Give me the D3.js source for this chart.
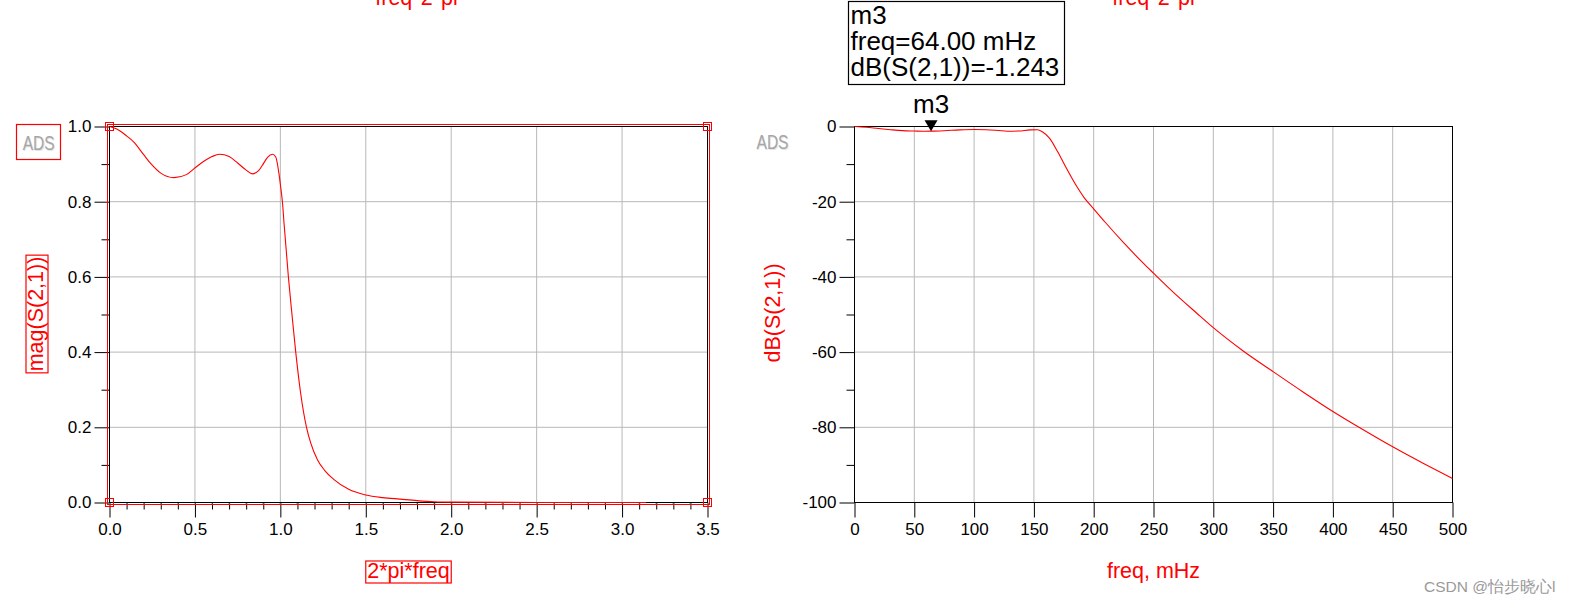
<!DOCTYPE html>
<html>
<head>
<meta charset="utf-8">
<script src="https://cdn.jsdelivr.net/npm/d3@7"></script>
<style>
  html, body { margin: 0; padding: 0; background: #fff; }
  svg { display: block; }
  text { font-family: "Liberation Sans", Arial, sans-serif; }
</style>
</head>
<body>
<svg id="chart" width="1589" height="606"></svg>
<script>
// ---------- Data ----------
// Left plot: mag(S(2,1)) vs 2*pi*freq
const omega = [0, 0.04, 0.1, 0.144, 0.2, 0.242, 0.3, 0.378, 0.45, 0.495,
               0.55, 0.6, 0.645, 0.7, 0.75, 0.8, 0.837, 0.856, 0.875, 0.895,
               0.925, 0.954, 0.973, 0.992, 1.002, 1.012, 1.022, 1.047, 1.068, 1.09,
               1.119, 1.153, 1.178, 1.217, 1.26, 1.314, 1.4, 1.5, 1.6, 1.7,
               1.8, 1.9, 2.0, 2.5, 3.0, 3.14];
const mag   = [1.0, 0.994, 0.975, 0.958, 0.925, 0.901, 0.876, 0.864, 0.872, 0.888,
               0.907, 0.92, 0.926, 0.92, 0.903, 0.884, 0.874, 0.877, 0.884, 0.897,
               0.918, 0.926, 0.919, 0.874, 0.839, 0.8, 0.74, 0.6, 0.5, 0.4,
               0.29, 0.2, 0.158, 0.114, 0.085, 0.061, 0.035, 0.02, 0.013, 0.009,
               0.005, 0.002, 0.001, 0, 0, 0];

// Right plot: dB(S(2,1)) vs freq (mHz)
const freq = [0, 10, 20, 30, 40, 50, 58, 64, 75, 88,
              100, 110, 120, 128, 137, 147, 153, 157, 163, 170,
              177, 185, 192, 200, 210, 225, 241, 250, 266, 286,
              300, 325, 350, 375, 400, 425, 450, 475, 500];
const dB   = [0, -0.2, -0.55, -0.85, -1.1, -1.2, -1.26, -1.243, -1.12, -0.9,
              -0.8, -0.85, -1.05, -1.25, -1.2, -0.9, -0.85, -1.4, -3.1, -6.8,
              -11.0, -15.5, -18.9, -21.9, -25.6, -30.9, -36.2, -39.0, -43.9, -49.6,
              -53.5, -59.7, -65.2, -70.6, -75.8, -80.6, -85.2, -89.5, -93.6];

// Marker m3
const markerName = "m3";
const markerFreq = 64;
const markerDB = -1.243;
const markerLines = ["m3", "freq=64.00 mHz", "dB(S(2,1))=-1.243"];

// Ticks
const leftXMajor = [0, 0.5, 1.0, 1.5, 2.0, 2.5, 3.0, 3.5];
const leftXMinor = [0.1,0.2,0.3,0.4,0.6,0.7,0.8,0.9,1.1,1.2,1.3,1.4,1.6,1.7,1.8,1.9,2.1,2.2,2.3,2.4,2.6,2.7,2.8,2.9,3.1,3.2,3.3,3.4];
const leftYMajor = [0.0, 0.2, 0.4, 0.6, 0.8, 1.0];
const leftYMinor = [0.1, 0.3, 0.5, 0.7, 0.9];
const rightXMajor = [0, 50, 100, 150, 200, 250, 300, 350, 400, 450, 500];
const rightYMajor = [-100, -80, -60, -40, -20, 0];
const rightYMinor = [-90, -70, -50, -30, -10];

// Labels
const leftXTitle = "2*pi*freq";
const leftYTitle = "mag(S(2,1))";
const rightXTitle = "freq, mHz";
const rightYTitle = "dB(S(2,1))";
const topEqn = "freq*2*pi";
const watermark = "CSDN @怡步晓心l";

// ---------- Drawing ----------
const svg = d3.select("#chart");
svg.append("rect").attr("width", 1589).attr("height", 606).attr("fill", "#fff");

const RED = "#ff0000";
const GRID = "#b8b8b8";
const TICKFONT = 17;
const TITLEFONT = 21.5;

const xL = d3.scaleLinear().domain([0, 3.5]).range([109.5, 707.5]);
const yL = d3.scaleLinear().domain([0, 1]).range([502.5, 126.5]);
const xR = d3.scaleLinear().domain([0, 500]).range([854.5, 1452.5]);
const yR = d3.scaleLinear().domain([-100, 0]).range([502.5, 126.5]);

function grid(g, x, y, xv, yv) {
  g.selectAll(".gv").data(xv).join("line")
    .attr("x1", d => x(d)).attr("x2", d => x(d))
    .attr("y1", y.range()[0]).attr("y2", y.range()[1])
    .attr("stroke", GRID).attr("stroke-width", 1);
  g.selectAll(".gh").data(yv).join("line").attr("class", "gh")
    .attr("y1", d => y(d)).attr("y2", d => y(d))
    .attr("x1", x.range()[0]).attr("x2", x.range()[1])
    .attr("stroke", GRID).attr("stroke-width", 1);
}

function styleAxis(sel) {
  sel.select(".domain").remove();
  sel.selectAll("line").attr("stroke", "#000").attr("stroke-width", 1);
  sel.selectAll("text").attr("fill", "#000").attr("font-size", TICKFONT)
     .attr("font-family", "'Liberation Sans', Arial, sans-serif");
}

function frame(g, x, y) {
  const [x0, x1] = x.range(), [y0, y1] = y.range();
  g.append("rect").attr("x", x0).attr("y", y1).attr("width", x1 - x0).attr("height", y0 - y1)
    .attr("fill", "none").attr("stroke", "#000").attr("stroke-width", 1);
}

// ----- Left chart -----
const gL = svg.append("g");
grid(gL.append("g"), xL, yL, leftXMajor.filter(d => d > 0 && d < 3.5), leftYMajor.filter(d => d > 0 && d < 1));
frame(gL, xL, yL);

gL.append("g").attr("transform", `translate(${xL(0)},0)`)
  .call(d3.axisLeft(yL).tickValues(leftYMajor).tickFormat(d3.format(".1f")).tickSize(15).tickPadding(3))
  .call(styleAxis);
gL.append("g").attr("transform", `translate(${xL(0)},0)`)
  .call(d3.axisLeft(yL).tickValues(leftYMinor).tickFormat("").tickSize(8))
  .call(styleAxis);
gL.append("g").attr("transform", `translate(0,${yL(0)})`)
  .call(d3.axisBottom(xL).tickValues(leftXMajor).tickFormat(d3.format(".1f")).tickSize(15).tickPadding(5))
  .call(styleAxis);
gL.append("g").attr("transform", `translate(0,${yL(0)})`)
  .call(d3.axisBottom(xL).tickValues(leftXMinor).tickFormat("").tickSize(7))
  .call(styleAxis);
// small cyan marks at tick roots
gL.selectAll(".cy").data(leftXMinor.concat(leftXMajor)).join("rect")
  .attr("x", d => Math.round(xL(d)) - 0.5).attr("y", yL(0) + 0.5).attr("width", 1).attr("height", 1)
  .attr("fill", "#00c8c8");

const lineL = d3.line().x((d, i) => xL(omega[i])).y(d => yL(d)).curve(d3.curveMonotoneX);
gL.append("path").datum(mag).attr("d", lineL)
  .attr("fill", "none").attr("stroke", RED).attr("stroke-width", 1.1);

// selection frame and handles
gL.append("rect").attr("x", xL(0) - 2).attr("y", yL(1) - 2)
  .attr("width", xL(3.5) - xL(0) + 4).attr("height", yL(0) - yL(1) + 4)
  .attr("fill", "none").attr("stroke", RED).attr("stroke-width", 1);
[[0, 0], [0, 1], [3.5, 0], [3.5, 1]].forEach(([a, b]) => {
  gL.append("rect").attr("x", xL(a) - 4).attr("y", yL(b) - 4).attr("width", 8).attr("height", 8)
    .attr("fill", "none").attr("stroke", RED).attr("stroke-width", 1);
});

// titles
const tLx = gL.append("text").attr("x", (xL(0) + xL(3.5)) / 2).attr("y", 578)
  .attr("text-anchor", "middle").attr("font-size", TITLEFONT).attr("fill", RED).text(leftXTitle);
const bx = tLx.node().getBBox();
gL.append("rect").attr("x", bx.x - 1.5).attr("y", bx.y + 2).attr("width", bx.width + 3).attr("height", bx.height - 2)
  .attr("fill", "none").attr("stroke", RED).attr("stroke-width", 1.2);

const tLy = gL.append("text").attr("transform", "translate(43,314) rotate(-90)")
  .attr("text-anchor", "middle").attr("font-size", TITLEFONT).attr("fill", RED).text(leftYTitle);
const by = tLy.node().getBBox();
gL.append("rect").attr("transform", "translate(43,314) rotate(-90)")
  .attr("x", by.x - 1.5).attr("y", by.y + 2).attr("width", by.width + 3).attr("height", by.height - 2)
  .attr("fill", "none").attr("stroke", RED).attr("stroke-width", 1.2);

gL.append("text").attr("x", 416.5).attr("y", 5).attr("text-anchor", "middle")
  .attr("font-size", TITLEFONT).attr("fill", RED).text(topEqn);

// ADS logos
function adsLogo(x, y) {
  svg.append("text").attr("x", x + 0.8).attr("y", y + 0.8).attr("font-size", 20)
    .attr("textLength", 32).attr("lengthAdjust", "spacingAndGlyphs")
    .attr("fill", "#e4e4e4").text("ADS");
  svg.append("text").attr("x", x).attr("y", y).attr("font-size", 20)
    .attr("textLength", 32).attr("lengthAdjust", "spacingAndGlyphs")
    .attr("fill", "#a6a6a6").text("ADS");
}
adsLogo(22.7, 150);
svg.append("rect").attr("x", 16.5).attr("y", 124.5).attr("width", 44).attr("height", 35)
  .attr("fill", "none").attr("stroke", RED).attr("stroke-width", 1.2);

// ----- Right chart -----
const gR = svg.append("g");
grid(gR.append("g"), xR, yR, rightXMajor.filter(d => d > 0 && d < 500), rightYMajor.filter(d => d > -100 && d < 0));
frame(gR, xR, yR);

gR.append("g").attr("transform", `translate(${xR(0)},0)`)
  .call(d3.axisLeft(yR).tickValues(rightYMajor).tickFormat(d => String(d)).tickSize(15).tickPadding(3))
  .call(styleAxis);
gR.append("g").attr("transform", `translate(${xR(0)},0)`)
  .call(d3.axisLeft(yR).tickValues(rightYMinor).tickFormat("").tickSize(8))
  .call(styleAxis);
gR.append("g").attr("transform", `translate(0,${yR(-100)})`)
  .call(d3.axisBottom(xR).tickValues(rightXMajor).tickFormat(d => String(d)).tickSize(15).tickPadding(5))
  .call(styleAxis);

const lineR = d3.line().x((d, i) => xR(freq[i])).y(d => yR(d)).curve(d3.curveMonotoneX);
gR.append("path").datum(dB).attr("d", lineR)
  .attr("fill", "none").attr("stroke", RED).attr("stroke-width", 1.1);

// marker
const mx = xR(markerFreq), my = yR(markerDB);
gR.append("path").attr("d", `M${mx - 6.5},${my - 11}L${mx + 6.5},${my - 11}L${mx},${my}Z`).attr("fill", "#000");
gR.append("text").attr("x", mx).attr("y", 113).attr("text-anchor", "middle")
  .attr("font-size", 26).attr("fill", "#000").text(markerName);
gR.append("rect").attr("x", 848.5).attr("y", 1.5).attr("width", 216).attr("height", 83)
  .attr("fill", "#fff").attr("stroke", "#000").attr("stroke-width", 1.2);
gR.selectAll(".ml").data(markerLines).join("text")
  .attr("x", 850.5).attr("y", (d, i) => 24 + i * 26)
  .attr("font-size", 26).attr("fill", "#000").text(d => d);

gR.append("text").attr("x", (xR(0) + xR(500)) / 2).attr("y", 578).attr("text-anchor", "middle")
  .attr("font-size", TITLEFONT).attr("fill", RED).text(rightXTitle);
gR.append("text").attr("transform", "translate(780,313) rotate(-90)")
  .attr("text-anchor", "middle").attr("font-size", TITLEFONT).attr("fill", RED).text(rightYTitle);
gR.append("text").attr("x", (xR(0) + xR(500)) / 2).attr("y", 5).attr("text-anchor", "middle")
  .attr("font-size", TITLEFONT).attr("fill", RED).text(topEqn);

adsLogo(756.5, 149);

// watermark
svg.append("text").attr("x", 1424).attr("y", 592).attr("font-size", 15.5)
  .attr("font-family", "'Noto Sans CJK SC', 'Liberation Sans', sans-serif")
  .attr("fill", "#9a9a9a").text(watermark);
</script>
</body>
</html>
